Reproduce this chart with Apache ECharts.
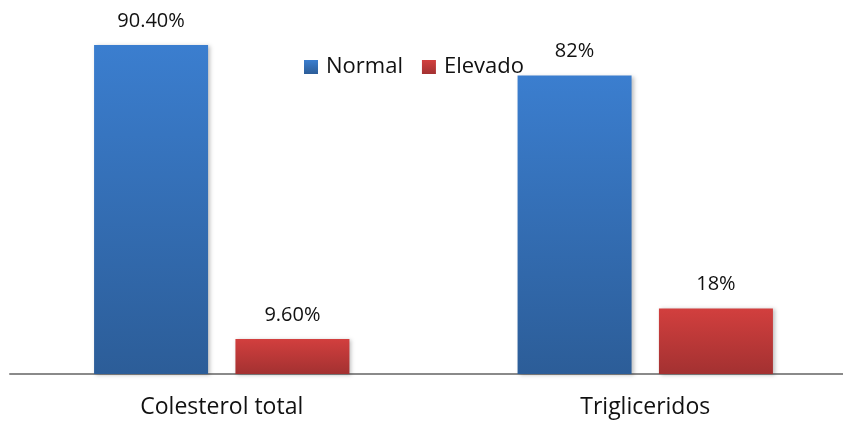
<!DOCTYPE html>
<html>
<head>
    <meta charset="utf-8">
    <title>Colesterol y trigliceridos</title>
    <style type="text/css">
        body {
            margin: 0;
            overflow: hidden;
        }
        html, body {
            height: 100%;
        }
        #chart {
            height: 100%;
            width: 860px;
        }
    </style>
</head>
<body>

    <div id="chart"></div>
    <script src="https://cdn.jsdelivr.net/npm/echarts@6/dist/echarts.min.js"></script>

    <script>
        var categories = ['Colesterol total', 'Trigliceridos'];
        var normalValues = [90.4, 82];
        var elevadoValues = [9.6, 18];
        var normalLabels = ['90.40%', '82%'];
        var elevadoLabels = ['9.60%', '18%'];

        var font = '"Open Sans", "Noto Sans", sans-serif';

        function grad(top, bottom) {
            return new echarts.graphic.LinearGradient(0, 0, 0, 1, [
                { offset: 0, color: top },
                { offset: 1, color: bottom }
            ]);
        }

        function makeSeries(name, values, labels, top, bottom) {
            return {
                name: name,
                type: 'bar',
                barWidth: 114,
                barGap: '24%',
                data: values,
                itemStyle: {
                    color: grad(top, bottom),
                    shadowColor: 'rgba(0,0,0,0.25)',
                    shadowBlur: 4,
                    shadowOffsetX: 2,
                    shadowOffsetY: 1
                },
                label: {
                    show: true,
                    position: 'top',
                    distance: 14,
                    fontFamily: font,
                    fontSize: 20,
                    color: '#111',
                    formatter: function (p) {
                        return labels[p.dataIndex];
                    }
                }
            };
        }

        var chart = echarts.init(document.getElementById('chart'));

        chart.setOption({
            animation: false,
            legend: {
                left: 299,
                top: 51,
                itemWidth: 14,
                itemHeight: 14,
                itemGap: 19,
                icon: 'rect',
                textStyle: {
                    fontFamily: font,
                    fontSize: 22,
                    color: '#111',
                    padding: [0, 0, 0, 3]
                },
                data: ['Normal', 'Elevado']
            },
            grid: {
                left: 10,
                width: 847,
                top: 10,
                bottom: 49
            },
            xAxis: {
                type: 'category',
                data: categories,
                axisLine: { lineStyle: { color: '#8a8a8a', width: 2 } },
                axisTick: { show: false },
                axisLabel: {
                    margin: 22,
                    fontFamily: font,
                    fontSize: 23,
                    color: '#111'
                }
            },
            yAxis: {
                type: 'value',
                min: 0,
                max: 100,
                show: false
            },
            series: [
                makeSeries('Normal', normalValues, normalLabels, '#3b7ecf', '#2c5d98'),
                makeSeries('Elevado', elevadoValues, elevadoLabels, '#d23f3e', '#a33131')
            ]
        });

        window.addEventListener('resize', function () {
            chart.resize();
        });
    </script>
</body>
</html>
